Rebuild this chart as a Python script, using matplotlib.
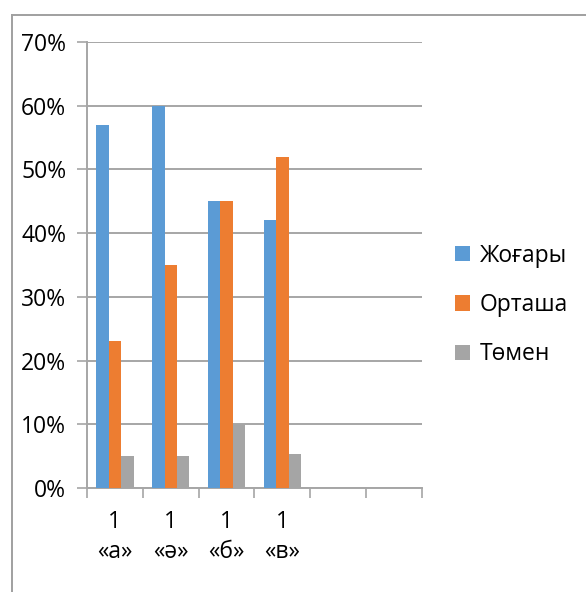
#!/usr/bin/env python3
"""Grouped bar chart: Жоғары / Орташа / Төмен levels by class."""

import matplotlib
matplotlib.use("Agg")
import matplotlib.pyplot as plt
from matplotlib.lines import Line2D
from matplotlib.patches import Patch
import numpy as np

# Data (percent)
categories = ["1\n«а»", "1\n«ә»", "1\n«б»", "1\n«в»", "", ""]
series_names = ["Жоғары", "Орташа", "Төмен"]
high = [57, 60, 45, 42]
medium = [23, 35, 45, 52]
low = [5, 5, 10, 5.3]
y_ticks = [0, 10, 20, 30, 40, 50, 60, 70]

colors = ["#5B9BD5", "#ED7D31", "#A5A5A5"]
grid_color = "#A6A6A6"

plt.rcParams["font.family"] = ["Open Sans", "Noto Sans", "DejaVu Sans"]
FS = 16.5

fig = plt.figure(figsize=(5.86, 5.92), dpi=100)
ax = fig.add_axes([87 / 586, 1 - 488 / 592, 335 / 586, 446 / 592])

bar_w = 0.222
for i, (vals, c) in enumerate(zip([high, medium, low], colors)):
    x = np.arange(len(vals)) + (i - 1) * bar_w
    ax.bar(x, vals, width=bar_w, color=c, zorder=3)

ax.set_xlim(-0.5, len(categories) - 0.5)
ax.set_ylim(0, 70)
ax.set_yticks(y_ticks)
ax.set_yticklabels([f"{v}%" for v in y_ticks], fontsize=FS)
ax.yaxis.grid(True, color=grid_color, linewidth=1.4, zorder=0)

ax.set_xticks(range(len(categories)))
ax.set_xticklabels(categories, fontsize=FS, linespacing=1.3)
ax.set_xticks(np.arange(len(categories) + 1) - 0.5, minor=True)
ax.tick_params(axis="x", which="major", length=0, pad=16)
ax.tick_params(axis="x", which="minor", length=7, width=1.2, color=grid_color, direction="out")
ax.tick_params(axis="y", length=7, width=1.2, color=grid_color, pad=8)

for side in ["top", "right"]:
    ax.spines[side].set_visible(False)
for side in ["left", "bottom"]:
    ax.spines[side].set_color(grid_color)
    ax.spines[side].set_linewidth(1.4)

# Legend
handles = [Patch(facecolor=c, edgecolor="none") for c in colors]
fig.legend(handles, series_names, loc="center left", bbox_to_anchor=(434 / 586, 1 - 305 / 592),
           frameon=False, fontsize=FS, handlelength=0.65, handleheight=0.65,
           handletextpad=0.45, labelspacing=1.1)

# Chart frame (top and left edges only)
fig.add_artist(Line2D([12 / 586, 1], [1 - 15 / 592, 1 - 15 / 592], color="#A0A0A0", linewidth=1.4))
fig.add_artist(Line2D([12 / 586, 12 / 586], [0, 1 - 15 / 592], color="#A0A0A0", linewidth=1.4))

fig.savefig("out.png", dpi=100)
plt.close(fig)
